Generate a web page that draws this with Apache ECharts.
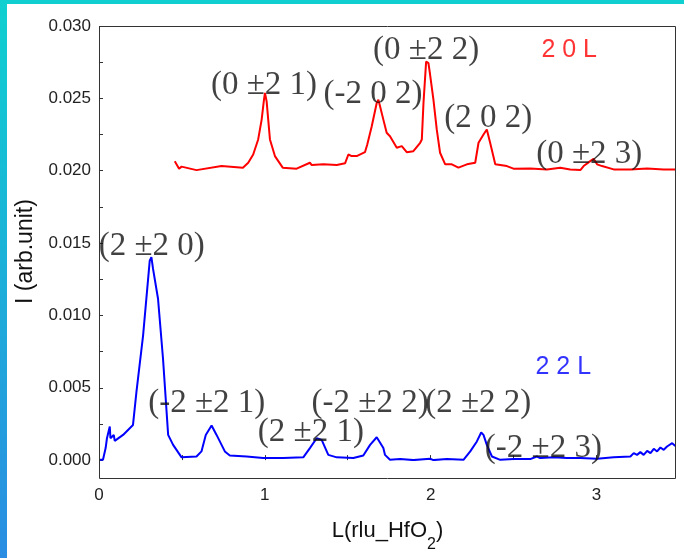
<!DOCTYPE html>
<html>
<head>
<meta charset="utf-8">
<script src="https://cdn.jsdelivr.net/npm/echarts@6/dist/echarts.min.js"></script>
<style>
html,body{margin:0;padding:0;background:#fff;}
#chart{width:684px;height:558px;}
</style>
</head>
<body>
<div id="chart"></div>
<script>
// ---- data ----
const redL = [0.457,0.483,0.498,0.588,0.739,0.868,0.900,0.930,0.960,0.981,0.995,1.001,1.011,1.031,1.061,1.108,1.192,1.272,1.283,1.353,1.434,1.484,1.504,1.524,1.554,1.604,1.618,1.645,1.675,1.685,1.695,1.715,1.735,1.755,1.796,1.826,1.856,1.896,1.937,1.947,1.957,1.973,1.987,1.997,2.017,2.037,2.057,2.088,2.128,2.168,2.219,2.269,2.289,2.319,2.339,2.359,2.390,2.460,2.500,2.601,2.702,2.782,2.842,2.903,2.923,2.963,2.983,3.004,3.034,3.104,3.205,3.306,3.406,3.476];
const redI = [0.02066,0.02014,0.02028,0.02004,0.02032,0.02021,0.02055,0.02112,0.02216,0.02353,0.02491,0.02537,0.02479,0.02216,0.02101,0.02021,0.02014,0.02055,0.02039,0.02044,0.02039,0.02051,0.02112,0.02101,0.02101,0.02128,0.02181,0.02307,0.02468,0.02491,0.02445,0.02353,0.02262,0.02238,0.02159,0.02170,0.02128,0.02135,0.02193,0.02216,0.02468,0.02754,0.02743,0.02663,0.02491,0.02285,0.02124,0.02044,0.02044,0.02021,0.02044,0.02055,0.02193,0.02250,0.02285,0.02193,0.02044,0.02032,0.02014,0.02016,0.02009,0.02021,0.02009,0.02004,0.02032,0.02066,0.02083,0.02044,0.02032,0.02009,0.02009,0.02016,0.02009,0.02009];
const blueL = [0,0.024,0.040,0.048,0.060,0.065,0.069,0.081,0.089,0.095,0.101,0.145,0.205,0.226,0.266,0.306,0.316,0.326,0.356,0.386,0.417,0.447,0.498,0.588,0.618,0.644,0.679,0.709,0.759,0.789,0.890,0.990,1.111,1.232,1.272,1.313,1.343,1.383,1.434,1.534,1.594,1.635,1.675,1.715,1.725,1.755,1.816,1.896,1.997,2.017,2.098,2.198,2.239,2.279,2.305,2.319,2.339,2.370,2.420,2.500,2.601,2.641,2.661,2.742,2.822,2.903,3.004,3.104,3.205,3.225,3.245,3.265,3.285,3.306,3.326,3.346,3.366,3.386,3.406,3.426,3.457,3.476];
const blueI = [0.00002,0.00002,0.00083,0.00151,0.00140,0.00232,0.00151,0.00151,0.00174,0.00133,0.00140,0.00174,0.00243,0.00473,0.00862,0.01378,0.01402,0.01321,0.01115,0.00702,0.00174,0.00105,0.00019,0.00025,0.00060,0.00174,0.00239,0.00174,0.00060,0.00032,0.00025,0.00014,0.00014,0.00019,0.00083,0.00151,0.00140,0.00036,0.00019,0.00014,0.00032,0.00105,0.00158,0.00083,0.00036,0.00002,0.00007,0.00000,0.00009,0.00000,0.00007,0.00002,0.00060,0.00129,0.00191,0.00174,0.00105,0.00025,0.00002,0.00007,0.00007,0.00025,0.00014,0.00019,0.00014,0.00014,0.00009,0.00019,0.00025,0.00048,0.00036,0.00055,0.00036,0.00064,0.00048,0.00078,0.00060,0.00087,0.00071,0.00094,0.00117,0.00098];

const annText = ['(0 \u00b12 1)','(-2 0 2)','(0 \u00b12 2)','(2 0 2)','(0 \u00b12 3)','(2 \u00b12 0)','(-2 \u00b12 1)','(2 \u00b12 1)','(-2 \u00b12 2)','(2 \u00b12 2)','(-2 \u00b12 3)'];
const annL = [0.995,1.653,1.973,2.347,2.957,0.318,0.650,1.278,1.635,2.287,2.680];
const annI = [0.02587,0.02525,0.02835,0.02360,0.02112,0.01479,0.00392,0.00193,0.00392,0.00392,0.00083];

const seriesNames = ['2 0 L','2 2 L'];
const seriesNameL = [2.836,2.800];
const seriesNameI = [0.02835,0.00640];

const xTicks = [0,1,2,3];
const yTicks = ['0.000','0.005','0.010','0.015','0.020','0.025','0.030'];

// ---- layout ----
const W = 684, H = 558;
const gLeft = 99, gRight = 8, gTop = 26, gBottom = 96, xOffset = 16;
const frameBottom = H - gBottom + xOffset;

const zip = (a, b) => a.map((v, i) => [v, b[i]]);

const chart = echarts.init(document.getElementById('chart'), null, {renderer: 'canvas'});
const option = {
  animation: false,
  backgroundColor: '#ffffff',
  grid: {left: gLeft, right: gRight, top: gTop, bottom: gBottom},
  xAxis: {
    type: 'value', min: 0, max: 3.48, interval: 0.5, offset: xOffset,
    axisLine: {show: false},
    axisTick: {show: true, inside: true, length: 5, lineStyle: {color: '#333'}},
    splitLine: {show: false},
    axisLabel: {
      margin: 11, fontSize: 17, color: '#222', fontFamily: '"Liberation Sans", Arial, sans-serif',
      showMaxLabel: false,
      formatter: v => (xTicks.indexOf(v) >= 0 ? String(v) : '')
    },
    name: 'L(rlu_HfO{sub|2})',
    nameLocation: 'middle', nameGap: 29,
    nameTextStyle: {
      fontSize: 22, color: '#111', fontFamily: '"Liberation Sans", Arial, sans-serif', lineHeight: 44,
      rich: {sub: {fontSize: 16, lineHeight: 16, verticalAlign: 'bottom', color: '#111', fontFamily: '"Liberation Sans", Arial, sans-serif'}}
    }
  },
  yAxis: {
    type: 'value', min: 0, max: 0.03, interval: 0.005,
    axisLine: {show: false},
    axisTick: {show: true, inside: true, length: 4, lineStyle: {color: '#333'}},
    minorTick: {show: true, splitNumber: 2, length: 4, lineStyle: {color: '#333'}},
    splitLine: {show: false},
    axisLabel: {
      margin: 8, fontSize: 17, color: '#222', fontFamily: '"Liberation Sans", Arial, sans-serif',
      formatter: v => yTicks[Math.round(v / 0.005)]
    },
    name: 'I (arb.unit)',
    nameLocation: 'middle', nameGap: 52,
    nameTextStyle: {fontSize: 23, color: '#111', fontFamily: '"Liberation Sans", Arial, sans-serif', padding: [0, 17, 0, 0]}
  },
  graphic: [
    {type: 'rect', z: 100, shape: {x: 0, y: 0, width: W, height: 4}, style: {fill: '#10cfd1'}},
    {type: 'rect', z: 100, shape: {x: 0, y: 0, width: 7, height: H},
      style: {fill: {type: 'linear', x: 0, y: 0, x2: 0, y2: 1, colorStops: [{offset: 0, color: '#0fd0d0'}, {offset: 1, color: '#2a8de2'}]}}},
    {type: 'rect', z: 50, shape: {x: gLeft + 0.5, y: gTop + 0.5, width: W - gRight - gLeft - 1, height: frameBottom - gTop},
      style: {fill: 'none', stroke: '#333', lineWidth: 1}}
  ],
  series: [
    {type: 'line', name: '20L', data: zip(redL, redI), showSymbol: false, symbol: 'none',
      lineStyle: {color: '#ff0000', width: 2}, z: 3},
    {type: 'line', name: '22L', data: zip(blueL, blueI), showSymbol: false, symbol: 'none',
      lineStyle: {color: '#0000ff', width: 2}, z: 3},
    {type: 'scatter', symbolSize: 0, z: 5, silent: true,
      data: annText.map((t, i) => ({value: [annL[i], annI[i]], name: t})),
      label: {show: true, position: 'inside', formatter: p => p.name,
        fontSize: 33, color: '#111', fontFamily: '"Liberation Serif", "Times New Roman", serif'}},
    {type: 'scatter', symbolSize: 0, z: 5, silent: true,
      data: seriesNames.map((t, i) => ({value: [seriesNameL[i], seriesNameI[i]], name: t,
        label: {color: i === 0 ? '#ff0000' : '#0000ff'}})),
      label: {show: true, position: 'inside', formatter: p => p.name,
        fontSize: 25, fontFamily: '"Liberation Sans", Arial, sans-serif'}}
  ]
};
chart.setOption(option);
</script>
</body>
</html>
